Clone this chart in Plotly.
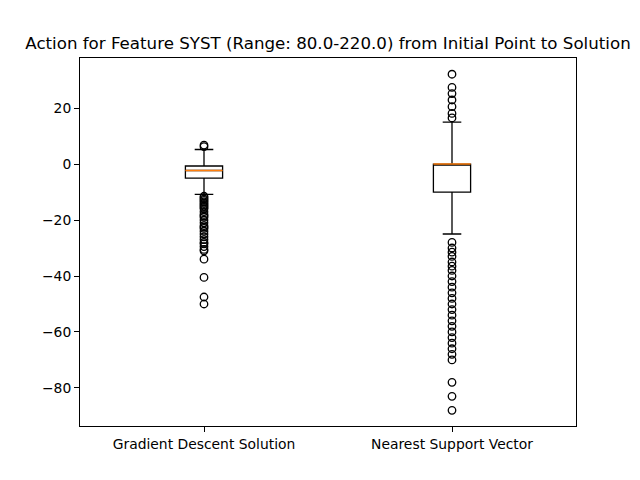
import plotly.graph_objects as go

categories = ["Gradient Descent Solution", "Nearest Support Vector"]
positions = [1, 2]
q1 = [-5.0, -10.0]
medians = [-2.3, 0.0]
q3 = [-0.7, 0.0]
lower_whisker = [-10.8, -25.0]
upper_whisker = [5.2, 15.0]

gd_outliers = [6.8, 6.2,
               -11.5, -12, -12.5, -13, -13.5, -14, -14.5, -15, -15.5, -16, -17, -18,
               -18.5, -19, -20, -21, -22, -22.5, -23, -24, -25, -26, -27, -28,
               -28.5, -29.5, -30.5, -31, -34, -40.5, -47.5, -50]
nsv_outliers = [32.1, 27.4, 25.2, 22.9, 20.5, 18.1, 16.5,
                -28, -30, -31.5, -33, -35, -36.5, -38, -40, -42, -44, -46, -48,
                -50, -52, -54, -56, -58, -60, -62, -64, -66, -68, -70,
                -78, -83, -88]
outliers = [gd_outliers, nsv_outliers]

box_width = 0.15
yticks = [20, 0, -20, -40, -60, -80]

fig = go.Figure()
for i in range(len(categories)):
    fig.add_trace(go.Box(
        x=[positions[i]], q1=[q1[i]], median=[medians[i]], q3=[q3[i]],
        lowerfence=[lower_whisker[i]], upperfence=[upper_whisker[i]],
        width=box_width, whiskerwidth=0.5, boxpoints=False,
        fillcolor="white", line=dict(color="black", width=1.3),
        showlegend=False, hoverinfo="skip"))
    fig.add_trace(go.Scatter(
        x=[positions[i] - box_width / 2, positions[i] + box_width / 2],
        y=[medians[i], medians[i]], mode="lines",
        line=dict(color="#ff7f0e", width=1.4), showlegend=False, hoverinfo="skip"))
    fig.add_trace(go.Scatter(
        x=[positions[i]] * len(outliers[i]), y=outliers[i], mode="markers",
        marker=dict(symbol="circle-open", size=7.5, color="black", line=dict(width=1.3, color="black")),
        showlegend=False, hoverinfo="skip"))

fig.update_layout(
    width=640, height=480,
    margin=dict(l=72, r=72, t=50, b=62),
    paper_bgcolor="white", plot_bgcolor="white",
    font=dict(family="DejaVu Sans", size=13.89, color="black"),
    title=dict(text="Action for Feature SYST (Range: 80.0-220.0) from Initial Point to Solution",
               x=0.5, xanchor="center", yref="container", y=0.927, yanchor="middle",
               font=dict(size=16.67, color="black")),
)
fig.update_xaxes(range=[0.5, 2.5], tickvals=positions, ticktext=categories,
                 showgrid=False, zeroline=False, showline=True, mirror=True,
                 linecolor="black", linewidth=1.1, ticks="outside", ticklen=4.9,
                 tickcolor="black", tickwidth=1.1)
fig.update_yaxes(range=[-93.6, 37.9], tickvals=yticks,
                 showgrid=False, zeroline=False, showline=True, mirror=True,
                 linecolor="black", linewidth=1.1, ticks="outside", ticklen=4.9,
                 tickcolor="black", tickwidth=1.1)

fig.write_html("out.html")
